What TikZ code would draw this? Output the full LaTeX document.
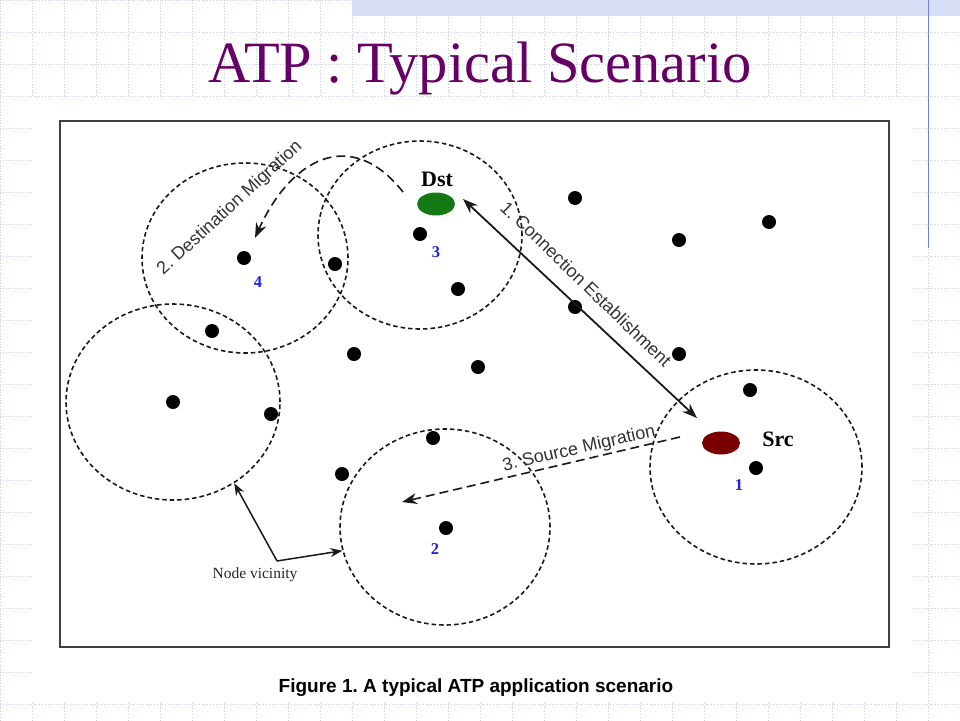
\documentclass[tikz,border=0pt]{standalone}
\usepackage{fontspec}
\setmainfont{Liberation Serif}
\newfontfamily\helv{Liberation Sans}
\usepackage{tikz}
\usetikzlibrary{arrows.meta}
\usetikzlibrary{shapes.geometric}
\definecolor{titlepurple}{RGB}{102,0,102}
\definecolor{dstgreen}{RGB}{20,120,20}
\definecolor{srcred}{RGB}{122,0,0}
\definecolor{numblue}{RGB}{30,30,230}
\definecolor{gridcol}{RGB}{200,202,235}
\definecolor{bandcol}{RGB}{214,221,245}
\definecolor{edgecol}{RGB}{110,130,220}
\frenchspacing

\begin{document}
\begin{tikzpicture}[x=1pt,y=-1pt,
    >={Stealth[length=15pt,width=11pt]},
    gridline/.style={draw=gridcol,line width=0.8pt,dotted},
    dot/.style={circle,fill=black,minimum size=14pt,inner sep=0pt},
    vicinity/.style={ellipse,draw=black!90,line width=1.6pt,dash pattern=on 4.5pt off 3pt,inner sep=0pt,minimum width=210pt,minimum height=194pt},
    endpoint/.style={ellipse,minimum width=38pt,minimum height=23pt,inner sep=0pt},
    nodenum/.style={text=numblue,font=\bfseries\fontsize{16.5}{16}\selectfont},
    steplabel/.style={text=black!80,font=\helv\fontsize{18}{18}\selectfont,inner sep=0pt},
    migration/.style={draw=black!90,line width=1.6pt,dash pattern=on 9pt off 5pt}]
    \useasboundingbox (0,0) rectangle (960,720);
    %
    % slide background
    \foreach \gx in {0,32,...,960} \draw[gridline] (\gx,0) -- (\gx,720);
    \foreach \gy in {0,32,...,720} \draw[gridline] (0,\gy) -- (960,\gy);
    \fill[bandcol] (352,0) rectangle (960,16);
    \draw[edgecol,line width=0.9pt] (928,0) -- (928,248);
    \fill[white] (32,98) rectangle (912,703);
    %
    \node[anchor=base,text=titlepurple,font=\fontsize{58.5}{60}\selectfont] (title) at (480,82) {ATP : Typical Scenario};
    \node[anchor=base,font=\helv\bfseries\fontsize{19}{20}\selectfont] (caption) at (476,692) {Figure 1. A typical ATP application scenario};
    \draw[black!75,line width=1.6pt] (60,121) rectangle (889,647);
    %
    % node vicinities
    \node[vicinity,minimum width=204pt,minimum height=188pt] (v_1) at (420,235) {};
    \node[vicinity,minimum width=206pt,minimum height=190pt] (v_2) at (245,258) {};
    \node[vicinity,minimum width=214pt,minimum height=196pt] (v_3) at (173,402) {};
    \node[vicinity,minimum width=210pt,minimum height=196pt] (v_4) at (445,527) {};
    \node[vicinity,minimum width=212pt,minimum height=194pt] (v_5) at (756,467) {};
    %
    % mobile nodes
    \node[dot] (p_1) at (575,198) {};
    \node[dot] (p_2) at (679,240) {};
    \node[dot] (p_3) at (769,222) {};
    \node[dot] (p_4) at (420,234) {};
    \node[dot] (p_5) at (458,289) {};
    \node[dot] (p_6) at (335,264) {};
    \node[dot] (p_7) at (244,258) {};
    \node[dot] (p_8) at (212,331) {};
    \node[dot] (p_9) at (354,354) {};
    \node[dot] (p_10) at (575,307) {};
    \node[dot] (p_11) at (679,354) {};
    \node[dot] (p_12) at (750,390) {};
    \node[dot] (p_13) at (478,367) {};
    \node[dot] (p_14) at (173,402) {};
    \node[dot] (p_15) at (271,414) {};
    \node[dot] (p_16) at (433,438) {};
    \node[dot] (p_17) at (342,474) {};
    \node[dot] (p_18) at (756,468) {};
    \node[dot] (p_19) at (446,528) {};
    %
    \node[nodenum] (n_1) at (739,485) {1};
    \node[nodenum] (n_2) at (435,549) {2};
    \node[nodenum] (n_3) at (436,252) {3};
    \node[nodenum] (n_4) at (258,282) {4};
    %
    % end points
    \node[endpoint,fill=dstgreen] (dst) at (436,204) {};
    \node[endpoint,fill=srcred] (src) at (721,443) {};
    \node[anchor=base,font=\bfseries\fontsize{22}{22}\selectfont] (dst_lbl) at (437,186) {Dst};
    \node[anchor=base,font=\bfseries\fontsize{22}{22}\selectfont] (src_lbl) at (778,446) {Src};
    %
    \coordinate (ce_1) at (463,199);
    \coordinate (ce_2) at (697,418);
    \coordinate (dm_1) at (403,192);
    \coordinate (dm_2) at (255,238);
    \coordinate (sm_1) at (680,437);
    \coordinate (sm_2) at (402,502);
    \coordinate (nv) at (277,561);
    %
    \begin{scope}[every node/.style={steplabel}]
        \draw[<->, black!90, line width=1.8pt] (ce_1) -- (ce_2);
        \node[rotate=-44] (lbl_1) at (586,284) {1. Connection Establishment};
        \draw[->, migration] (dm_1) .. controls (350,125) and (290,160) .. (dm_2);
        \node[rotate=42.5] (lbl_2) at (230,208) {2. Destination Migration};
        \draw[->, migration] (sm_1) -- (sm_2);
        \node[rotate=13] (lbl_3) at (579,449) {3. Source Migration};
    \end{scope}
    %
    \draw[->, black!90, line width=1.5pt, >={Stealth[length=12pt,width=9pt]}] (nv) -- (v_3.-53);
    \draw[->, black!90, line width=1.5pt, >={Stealth[length=12pt,width=9pt]}] (nv) -- (v_4.193);
    \node[text=black!85,font=\fontsize{15.5}{16}\selectfont] (nv_lbl) at (255,575) {Node vicinity};
\end{tikzpicture}
\end{document}
